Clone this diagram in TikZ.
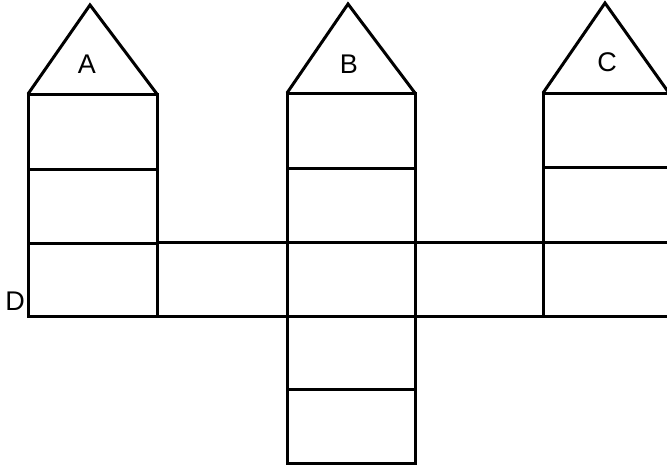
\documentclass[tikz,border=0pt]{standalone}
\usepackage{fontspec}
\setmainfont{Liberation Sans}
\begin{document}
\begin{tikzpicture}[x=1pt,y=-1pt,line width=3pt,
    lbl/.style={inner sep=0pt,font=\fontsize{27pt}{32pt}\selectfont}]
  \useasboundingbox (0,0) rectangle (667,466);
  \clip (0,0) rectangle (667,466);
  % roofs
  \draw (28,94) -- (90,5) -- (157,94);
  \draw (287,93) -- (348,4) -- (415,93);
  \draw (543,93) -- (605,3) -- (669,93);
  % tower A
  \draw (28,94) rectangle (157,316);
  \foreach \y in {169,243} \draw (28,\y) -- (157,\y);
  % tower B
  \draw (287,93) rectangle (415,463);
  \foreach \y in {168,242,316,389} \draw (287,\y) -- (415,\y);
  % tower C
  \draw (543,93) rectangle (672,316);
  \draw (543,167) -- (672,167);
  % bridge D
  \draw (157,242) -- (672,242);
  \draw (28,316) -- (672,316);
  % labels
  \node[lbl] (labA) at (87,64) {A};
  \node[lbl] (labB) at (349,64) {B};
  \node[lbl] (labC) at (607,62.5) {C};
  \node[lbl] (labD) at (15,301) {D};
\end{tikzpicture}
\end{document}
